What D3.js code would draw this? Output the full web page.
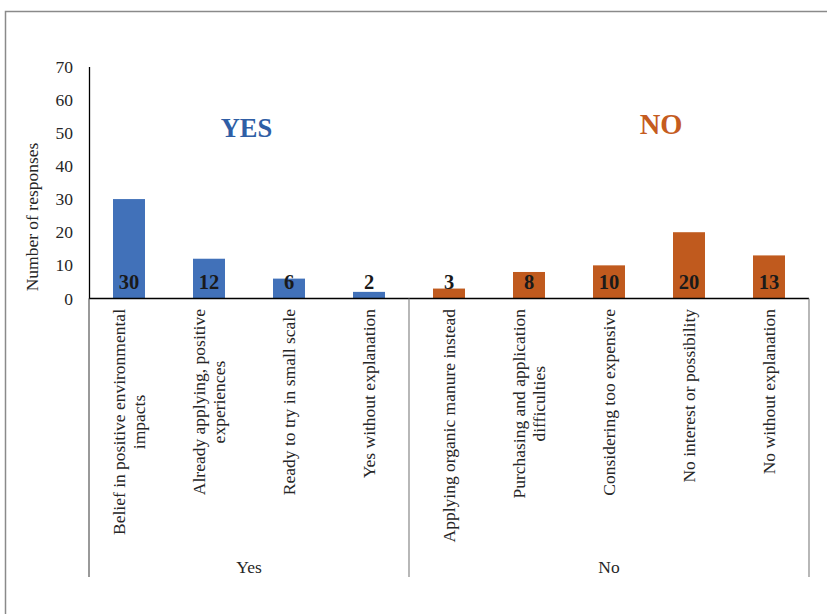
<!DOCTYPE html>
<html>
<head>
<meta charset="utf-8">
<script src="https://cdn.jsdelivr.net/npm/d3@7"></script>
<style>
  html, body { margin: 0; padding: 0; background: #fff; }
  svg { display: block; font-family: "Liberation Serif", "Times New Roman", serif; }
</style>
</head>
<body>
<svg id="chart" width="827" height="614"></svg>
<script>
// Survey answers, grouped into "Yes" and "No" reasons
const categories = [
  "Belief in positive environmental\nimpacts",
  "Already applying, positive\nexperiences",
  "Ready to try in small scale",
  "Yes without explanation",
  "Applying organic manure instead",
  "Purchasing and application\ndifficulties",
  "Considering too expensive",
  "No interest or possibility",
  "No without explanation"
];
const responses = [30, 12, 6, 2, 3, 8, 10, 20, 13];
const answerGroup = ["Yes", "Yes", "Yes", "Yes", "No", "No", "No", "No", "No"];
const groups = ["Yes", "No"];
const groupTitles = ["YES", "NO"];
const yTicks = [0, 10, 20, 30, 40, 50, 60, 70];
const yLabel = "Number of responses";

const colors = { Yes: "#4171b9", No: "#c05a1e" };
const titleColors = { Yes: "#2f5ea5", No: "#c55c1f" };
const textSize = 17.5;

const svg = d3.select("#chart");

// outer frame
svg.append("rect")
  .attr("x", 5.5).attr("y", 11.5)
  .attr("width", 840).attr("height", 640)
  .attr("fill", "none").attr("stroke", "#8a8a8a").attr("stroke-width", 1.5);

const plot = { left: 89, right: 809, top: 66.5, bottom: 298.5 };

const x = d3.scaleBand()
  .domain(d3.range(categories.length))
  .range([plot.left, plot.right])
  .paddingInner(0.6)
  .paddingOuter(0.3);

const y = d3.scaleLinear()
  .domain([0, 70])
  .range([plot.bottom, plot.top]);

// y axis without tick marks
const yAxis = d3.axisLeft(y).tickValues(yTicks).tickSize(0).tickPadding(16);
const yg = svg.append("g")
  .attr("transform", `translate(${plot.left},0)`)
  .call(yAxis);
yg.select(".domain").attr("stroke", "#000").attr("stroke-width", 1.3);
yg.selectAll("text")
  .attr("font-family", "Liberation Serif, Times New Roman, serif")
  .attr("font-size", textSize).attr("fill", "#262626");

// bars
svg.append("g").selectAll("rect")
  .data(responses)
  .join("rect")
  .attr("x", (d, i) => x(i))
  .attr("width", x.bandwidth())
  .attr("y", d => y(d))
  .attr("height", d => y(0) - y(d))
  .attr("fill", (d, i) => colors[answerGroup[i]]);

// value labels near the base of each bar
svg.append("g").selectAll("text")
  .data(responses)
  .join("text")
  .attr("x", (d, i) => x(i) + x.bandwidth() / 2)
  .attr("y", y(0) - 9.5)
  .attr("text-anchor", "middle")
  .attr("font-size", 20.5).attr("font-weight", "bold")
  .attr("fill", "#1a1a1a")
  .text(d => d);

// x baseline
svg.append("line")
  .attr("x1", plot.left).attr("x2", plot.right)
  .attr("y1", y(0)).attr("y2", y(0))
  .attr("stroke", "#000").attr("stroke-width", 1.3);

// group separators below the baseline
const sepBottom = 577;
const edges = [plot.left];
groups.forEach(g => {
  const last = d3.max(answerGroup.map((a, i) => a === g ? i : -1));
  edges.push(last === categories.length - 1 ? plot.right : x(last) + x.bandwidth() + x.step() * x.paddingInner() / 2);
});
svg.append("g").selectAll("line")
  .data(edges)
  .join("line")
  .attr("x1", d => d).attr("x2", d => d)
  .attr("y1", y(0)).attr("y2", sepBottom)
  .attr("stroke", (d, i) => i === 0 ? "#555" : "#888")
  .attr("stroke-width", 1.2);

// group names under the categories
svg.append("g").selectAll("text")
  .data(groups)
  .join("text")
  .attr("x", (g, i) => (edges[i] + edges[i + 1]) / 2)
  .attr("y", 573)
  .attr("text-anchor", "middle")
  .attr("font-size", textSize).attr("fill", "#262626")
  .text(g => g);

// rotated category labels, block hung from just below the baseline
const labelTop = 309;
const lineGap = 19.3;
categories.forEach((label, i) => {
  const lines = label.split("\n");
  const cx = x(i) + x.bandwidth() / 2;
  const g = svg.append("g")
    .attr("transform", `translate(${cx},${labelTop}) rotate(-90)`);
  const texts = g.selectAll("text")
    .data(lines)
    .join("text")
    .attr("font-size", textSize).attr("fill", "#262626")
    .attr("text-anchor", "middle")
    .attr("y", (d, k) => 6 + (k - (lines.length - 1) / 2) * lineGap)
    .text(d => d);
  let maxW = 0;
  texts.each(function () { maxW = Math.max(maxW, this.getComputedTextLength()); });
  texts.attr("x", -maxW / 2);
});

// y axis title
svg.append("text")
  .attr("transform", `translate(37.5,217) rotate(-90)`)
  .attr("text-anchor", "middle")
  .attr("font-size", textSize).attr("fill", "#262626")
  .text(yLabel);

// big group headings
const headingSizes = { Yes: 26.5, No: 28.5 };
const headingY = { Yes: 136.7, No: 134.3 };
svg.append("g").selectAll("text")
  .data(groups)
  .join("text")
  .attr("x", (g, i) => i === 0 ? 246.5 : 661)
  .attr("y", g => headingY[g])
  .attr("text-anchor", "middle")
  .attr("font-size", g => headingSizes[g])
  .attr("font-weight", "bold")
  .attr("fill", g => titleColors[g])
  .text((g, i) => groupTitles[i]);
</script>
</body>
</html>
